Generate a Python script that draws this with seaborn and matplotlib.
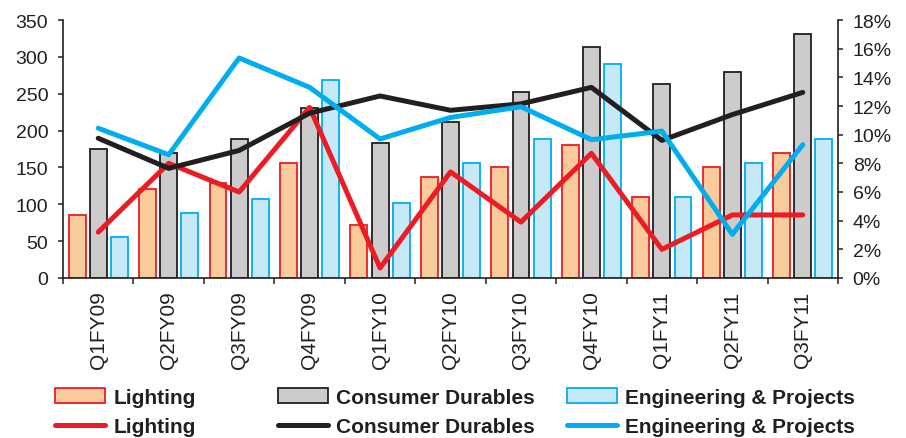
import numpy as np
import pandas as pd
import matplotlib
matplotlib.use("Agg")
import matplotlib.pyplot as plt
import seaborn as sns
from matplotlib.patches import Patch
from matplotlib.lines import Line2D
from matplotlib.ticker import MultipleLocator, FixedLocator, FuncFormatter

# Quarterly segment revenue (bars, left axis) and margin % (lines, right axis)
quarters = ["Q1FY09", "Q2FY09", "Q3FY09", "Q4FY09", "Q1FY10", "Q2FY10",
            "Q3FY10", "Q4FY10", "Q1FY11", "Q2FY11", "Q3FY11"]
segments = ["Lighting", "Consumer Durables", "Engineering & Projects"]

lighting_rev = [86, 121, 129, 156, 72, 137, 150, 180, 110, 150, 169]
durables_rev = [175, 169, 188, 231, 183, 212, 253, 314, 263, 280, 331]
engineering_rev = [56, 88, 107, 269, 102, 156, 188, 290, 110, 156, 188]

lighting_margin = [3.2, 8.0, 6.0, 11.9, 0.7, 7.4, 3.9, 8.7, 2.0, 4.4, 4.4]
durables_margin = [9.75, 7.65, 8.9, 11.5, 12.7, 11.7, 12.15, 13.3, 9.6, 11.4, 12.95]
engineering_margin = [10.45, 8.6, 15.35, 13.3, 9.7, 11.2, 11.95, 9.65, 10.25, 3.05, 9.3]

fills = ["#F9CB9C", "#CCCCCC", "#C6E9F8"]
edges = ["#ED1C24", "#231F20", "#00AEEF"]
ink = "#231F20"

n = len(quarters)
bars = pd.DataFrame({
    "quarter": quarters * 3,
    "segment": np.repeat(segments, n),
    "revenue": lighting_rev + durables_rev + engineering_rev,
})
margins = pd.DataFrame({
    "pos": np.tile(np.arange(n), 3),
    "segment": np.repeat(segments, n),
    "margin": lighting_margin + durables_margin + engineering_margin,
})

sns.set_style("ticks")
plt.rcParams["font.family"] = ["Liberation Sans", "DejaVu Sans"]

fig = plt.figure(figsize=(9.06, 4.39), dpi=100)
ax = fig.add_axes([63 / 906, 160 / 439, 775 / 906, 258 / 439])

sns.barplot(data=bars, x="quarter", y="revenue", hue="segment",
            order=quarters, hue_order=segments,
            palette=dict(zip(segments, fills)), saturation=1,
            width=0.9, gap=0.2, errorbar=None, legend=False, ax=ax)
for cont, ec in zip(ax.containers, edges):
    for p in cont:
        p.set_edgecolor(ec)
        p.set_linewidth(1.3)

ax2 = ax.twinx()
sns.lineplot(data=margins, x="pos", y="margin", hue="segment",
             hue_order=segments, palette=dict(zip(segments, edges)),
             linewidth=3.6, legend=False, ax=ax2)

ax.set_xlim(-0.5, n - 0.5)
ax.set_ylim(0, 350)
ax.yaxis.set_major_locator(MultipleLocator(50))
ax2.set_ylim(0, 18)
ax2.yaxis.set_major_locator(MultipleLocator(2))
ax2.yaxis.set_major_formatter(FuncFormatter(lambda v, _: f"{v:.0f}%"))

for a in (ax, ax2):
    a.set_xlabel("")
    a.set_ylabel("")
    a.spines["top"].set_visible(False)
    for s in a.spines.values():
        s.set_color(ink)
        s.set_linewidth(1.2)
ax.spines["right"].set_visible(False)
ax2.spines["left"].set_visible(False)
ax2.spines["bottom"].set_visible(False)

ax.tick_params(axis="y", length=3.6, width=1.1, pad=7, labelsize=14,
               color=ink, labelcolor=ink)
ax2.tick_params(axis="y", length=3.6, width=1.1, pad=7, labelsize=14,
                color=ink, labelcolor=ink)
ax.tick_params(axis="x", which="major", length=0, pad=9, labelsize=15,
               labelrotation=90, labelcolor=ink)
ax.xaxis.set_minor_locator(FixedLocator(np.arange(-0.5, n, 1.0)))
ax.tick_params(axis="x", which="minor", length=4, width=1.1, color=ink)

# Legend: one column per segment, bar swatch above line swatch
col_x = [55, 278, 567]
for seg, fc, ec, x0 in zip(segments, fills, edges, col_x):
    handles = [Patch(facecolor=fc, edgecolor=ec, linewidth=1.3),
               Line2D([], [], color=ec, linewidth=3.6)]
    fig.legend(handles, [seg, seg], loc="upper left",
               bbox_to_anchor=(x0 / 906, 1 - 389 / 439),
               frameon=False, borderpad=0, borderaxespad=0,
               handlelength=2.4, handletextpad=0.4, labelspacing=0.5,
               prop={"weight": "bold", "size": 15}, labelcolor=ink)

fig.savefig("out.png", dpi=100)
